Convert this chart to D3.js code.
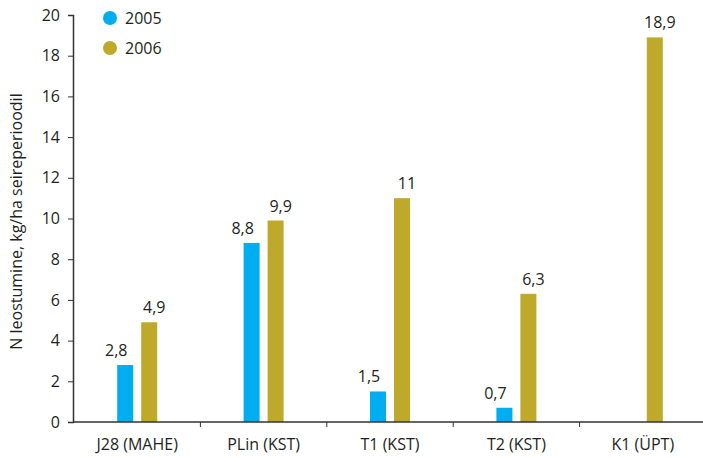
<!DOCTYPE html>
<html>
<head>
<meta charset="utf-8">
<script src="https://cdn.jsdelivr.net/npm/d3@7"></script>
<style>
  body { margin: 0; background: #fff; }
  svg { display: block; }
</style>
</head>
<body>
<script>
// Data
const categories = ["J28 (MAHE)", "PLin (KST)", "T1 (KST)", "T2 (KST)", "K1 (ÜPT)"];
const years = ["2005", "2006"];
const values2005 = [2.8, 8.8, 1.5, 0.7, null];
const values2006 = [4.9, 9.9, 11, 6.3, 18.9];
const yTicks = [0, 2, 4, 6, 8, 10, 12, 14, 16, 18, 20];

const colors = { "2005": "#00aeef", "2006": "#bfa92a" };
const textColor = "#231f20";

const width = 703, height = 458;
const fontFamily = "'Open Sans', 'Noto Sans', sans-serif";
const fontSize = "16px";

const svg = d3.select("body").append("svg")
    .attr("width", width)
    .attr("height", height)
    .style("font-family", fontFamily);

const x0 = 74, x1 = 706, yTop = 15, yBottom = 422;

const x = d3.scaleBand()
    .domain(categories)
    .range([x0, x1]);

const y = d3.scaleLinear()
    .domain([0, 20])
    .range([yBottom, yTop]);

const rows = categories.map((c, i) => ({
  cat: c,
  vals: [
    { year: "2005", v: values2005[i] },
    { year: "2006", v: values2006[i] }
  ].filter(d => d.v != null)
}));

// Bars
const g = svg.append("g")
  .selectAll("g")
  .data(rows)
  .join("g")
    .attr("transform", d => `translate(${x(d.cat) + x.bandwidth() / 2},0)`);

const bw = 16;
g.selectAll("rect")
  .data(d => d.vals)
  .join("rect")
    .attr("x", d => d.year === "2005" ? -20 : 4)
    .attr("width", bw)
    .attr("y", d => y(d.v))
    .attr("height", d => y(0) - y(d.v))
    .attr("fill", d => colors[d.year]);

// Value labels
g.selectAll("text")
  .data(d => d.vals)
  .join("text")
    .attr("x", d => d.year === "2005" ? -21 : 17)
    .attr("y", d => y(d.v) - 9)
    .attr("text-anchor", "middle")
    .style("font-size", fontSize)
    .attr("fill", textColor)
    .text(d => String(d.v).replace(".", ","));

// Y axis
const yAxis = svg.append("g")
    .attr("transform", `translate(${x0 - 1},0)`)
    .call(d3.axisLeft(y).tickValues(yTicks).tickSize(5).tickPadding(8));
yAxis.select(".domain").attr("stroke", "#333").attr("stroke-width", 1.5);
yAxis.selectAll(".tick line").attr("stroke", "#333");
yAxis.selectAll(".tick text")
    .style("font-size", fontSize)
    .style("font-family", fontFamily)
    .attr("fill", textColor);

// X axis
const xAxisG = svg.append("g")
    .attr("transform", `translate(0,${yBottom})`);
xAxisG.append("line")
    .attr("x1", x0 - 1).attr("x2", width)
    .attr("stroke", "#333").attr("stroke-width", 1.5);
xAxisG.selectAll("line.tick")
  .data(categories.slice(1))
  .join("line")
    .attr("class", "tick")
    .attr("x1", d => x(d)).attr("x2", d => x(d))
    .attr("y1", 0).attr("y2", 5)
    .attr("stroke", "#333");
xAxisG.selectAll("text")
  .data(categories)
  .join("text")
    .attr("x", d => x(d) + x.bandwidth() / 2)
    .attr("y", 28)
    .attr("text-anchor", "middle")
    .style("font-size", fontSize)
    .attr("fill", textColor)
    .text(d => d);

// Y axis title
svg.append("text")
    .attr("transform", `translate(22,${(yTop + yBottom) / 2 + 3}) rotate(-90)`)
    .attr("text-anchor", "middle")
    .style("font-size", fontSize)
    .attr("fill", textColor)
    .text("N leostumine, kg/ha seireperioodil");

// Legend
const legend = svg.append("g")
  .selectAll("g")
  .data(years)
  .join("g")
    .attr("transform", (d, i) => `translate(110,${18 + i * 30})`);
legend.append("circle")
    .attr("r", 7)
    .attr("fill", d => colors[d]);
legend.append("text")
    .attr("x", 15)
    .attr("dy", "0.35em")
    .style("font-size", fontSize)
    .attr("fill", textColor)
    .text(d => d);
</script>
</body>
</html>
